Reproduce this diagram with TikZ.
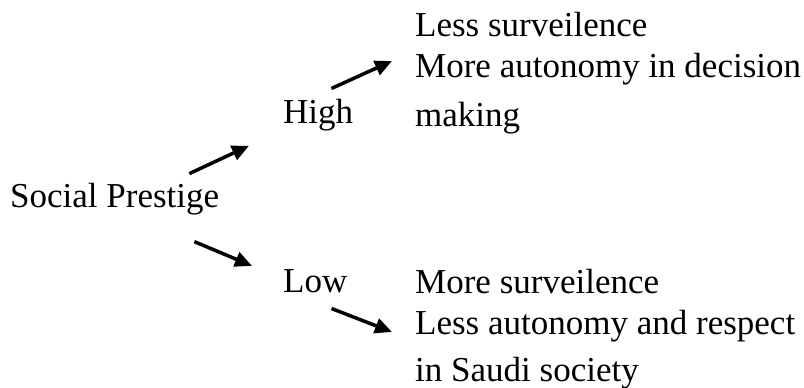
\documentclass[tikz,border=0pt]{standalone}
\usepackage{fontspec}
\setmainfont{Liberation Serif}
\usetikzlibrary{positioning, arrows.meta}

\begin{document}
\begin{tikzpicture}[x=1pt, y=1pt,
    txt/.style={inner sep=0pt, font=\fontsize{35}{41}\selectfont},
    arr/.style={-{Triangle[length=17pt,width=15pt]}, line width=3.5pt}]
  \useasboundingbox (0,0) rectangle (804,388);
  % root
  \node[txt, anchor=base west] (prestige) at (10,180) {Social Prestige};
  % levels
  \node[txt, anchor=base west] (high) at (283,264) {High};
  \node[txt, anchor=base west] (low) at (283,95) {Low};
  % outcomes
  \node[txt, anchor=north west, align=left] (highout) at (415,376)
    {Less surveilence\\ More autonomy in decision\\[8pt] making};
  \node[txt, anchor=north west, align=left] (lowout) at (415,119)
    {More surveilence\\ Less autonomy and respect\\[6pt] in Saudi society};
  % arrows
  \draw[arr] ([shift={(-30,26)}]prestige.east) -- ([shift={(-34,-14)}]high.south west);
  \draw[arr] ([shift={(-25,-42)}]prestige.east) -- ([shift={(-31,4)}]low.north west);
  \draw[arr] ([shift={(-22,11)}]high.north east) -- ([shift={(-23,-49)}]highout.north west);
  \draw[arr] ([shift={(-16,-15)}]low.south east) -- ([shift={(-23,-63)}]lowout.north west);
\end{tikzpicture}
\end{document}
